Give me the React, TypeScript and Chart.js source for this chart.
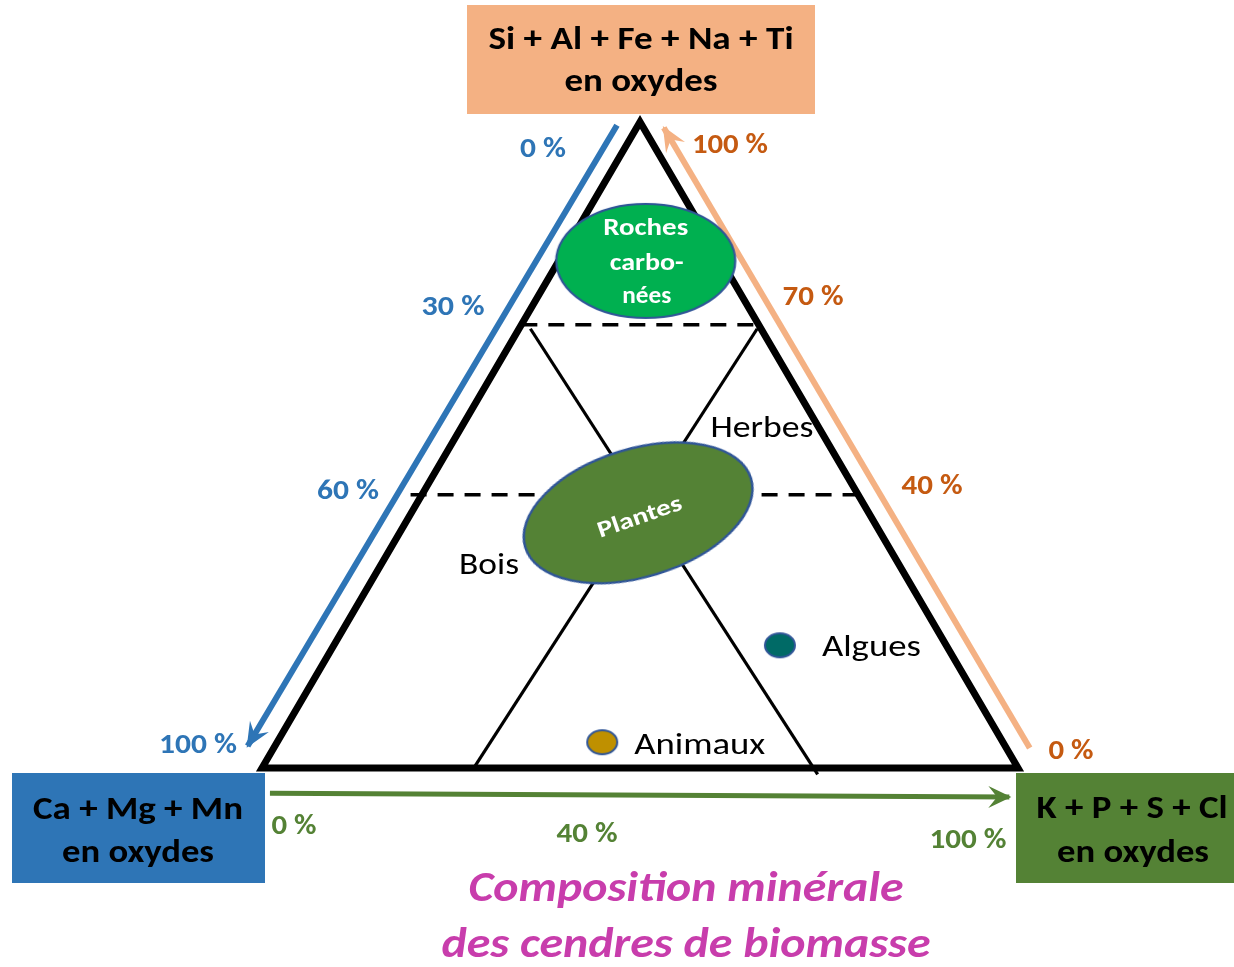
import React, { useEffect, useRef } from "react";
import { Chart, registerables } from "chart.js";

Chart.register(...registerables);

// ---------------- DATA ----------------
// Ternary compositions in % : [Si+Al+Fe+Na+Ti, Ca+Mg+Mn, K+P+S+Cl]
const apexLabel = ["Si + Al + Fe + Na + Ti", "en oxydes"];
const leftLabel = ["Ca + Mg + Mn", "en oxydes"];
const rightLabel = ["K + P + S + Cl", "en oxydes"];
const titleLines = ["Composition minérale", "des cendres de biomasse"];

const triangleVertices = [
  [0, 100, 0],
  [100, 0, 0],
  [0, 0, 100],
  [0, 100, 0],
  [100, 0, 0],
];
const dashedSi70 = [
  [68.6, 31.4, 0],
  [68.6, 0, 31.4],
];
const dashedSi40 = [
  [42.3, 59.2, -1.5],
  [42.3, 0, 57.7],
];
const boundaryCa30 = [
  [68, 30.5, 1.5],
  [-1, 27, 74],
];
const boundaryK30 = [
  [68, 0.5, 31.5],
  [0, 72, 28],
];

const groupNames = ["Roches carbonées", "Plantes", "Algues", "Animaux"];
const groupCenters = [
  [78.5, 10, 11.5],
  [39.5, 30.5, 30],
  [19, 22, 59],
  [4, 53, 43],
];
const rochesLines = ["Roches", "carbo-", "nées"];
const zoneNames = ["Herbes", "Bois"];

const caAxis = [
  [99.5, 3.3, -2.8],
  [3.4, 100.2, -3.6],
];
const siAxis = [
  [3.1, -3.1, 100],
  [99.1, -2.7, 3.6],
];
const kAxis = [
  [-3.9, 100.9, 3],
  [-4.5, 3.4, 101.1],
];

const caTicks = ["0 %", "30 %", "60 %", "100 %"];
const siTicks = ["100 %", "70 %", "40 %", "0 %"];
const kTicks = ["0 %", "40 %", "100 %"];

// ---------------- LAYOUT / STYLE ----------------
const FONT = 'Carlito, Lato, "Open Sans", sans-serif';
const BLUE = "#2E75B6";
const ORANGE = "#F4B183";
const ORANGE_TXT = "#C55A11";
const GREEN = "#548235";
const MAGENTA = "#C83DAC";
const EDGE_BLUE = "#2F5597";

const toXY = (p: number[]) => ({ x: (p[2] + p[0] / 2) / 100, y: p[0] / 100 });

// text layout: [cx, baseline, width]
const caTickPos = [
  [543, 157, 46],
  [453, 315, 63],
  [348, 499, 62],
  [198, 753, 78],
];
const siTickPos = [
  [730, 153, 76],
  [813, 305, 61],
  [932, 494, 61],
  [1071, 759, 45],
];
const kTickPos = [
  [294, 834, 45],
  [587, 842, 61],
  [968, 848, 77],
];

function fitText(
  ctx: CanvasRenderingContext2D,
  text: string,
  x: number,
  y: number,
  font: string,
  color: string,
  width: number,
  align: "center" | "left" = "center"
) {
  ctx.save();
  ctx.font = font;
  ctx.fillStyle = color;
  ctx.textBaseline = "alphabetic";
  const w = ctx.measureText(text).width;
  const s = width / w;
  ctx.translate(x, y);
  ctx.scale(s, 1);
  ctx.textAlign = align;
  ctx.fillText(text, 0, 0);
  ctx.restore();
}

function makeEllipse(rx: number, ry: number, fill: string, stroke: string, lw: number) {
  const c = document.createElement("canvas");
  const w = 2 * Math.ceil(rx + lw + 1);
  const h = 2 * Math.ceil(ry + lw + 1);
  c.width = w;
  c.height = h;
  const g = c.getContext("2d")!;
  g.beginPath();
  g.ellipse(w / 2, h / 2, rx, ry, 0, 0, Math.PI * 2);
  g.fillStyle = fill;
  g.fill();
  g.lineWidth = lw;
  g.strokeStyle = stroke;
  g.stroke();
  return c;
}

const decorPlugin = {
  id: "decor",
  beforeDatasetsDraw(chart: any) {
    const ctx = chart.ctx as CanvasRenderingContext2D;
    ctx.save();
    ctx.fillStyle = ORANGE;
    ctx.fillRect(467, 5, 348, 109);
    ctx.fillStyle = BLUE;
    ctx.fillRect(12, 773, 253, 110);
    ctx.fillStyle = GREEN;
    ctx.fillRect(1016, 773, 218, 110);
    ctx.restore();
  },
  afterDatasetsDraw(chart: any) {
    const ctx = chart.ctx as CanvasRenderingContext2D;
    // arrowheads
    const heads = [
      { i: 5, color: BLUE, L: 25, W: 11 },
      { i: 6, color: ORANGE, L: 25, W: 11 },
      { i: 7, color: GREEN, L: 23, W: 11 },
    ];
    heads.forEach((h) => {
      const pts = chart.getDatasetMeta(h.i).data;
      const a = pts[0];
      const b = pts[pts.length - 1];
      const dx = b.x - a.x;
      const dy = b.y - a.y;
      const len = Math.hypot(dx, dy);
      const ux = dx / len;
      const uy = dy / len;
      const nx = -uy;
      const ny = ux;
      const tx = b.x + ux * 2;
      const ty = b.y + uy * 2;
      ctx.save();
      ctx.fillStyle = h.color;
      ctx.beginPath();
      ctx.moveTo(tx, ty);
      ctx.lineTo(tx - ux * h.L + nx * h.W, ty - uy * h.L + ny * h.W);
      ctx.lineTo(tx - ux * h.L * 0.62, ty - uy * h.L * 0.62);
      ctx.lineTo(tx - ux * h.L - nx * h.W, ty - uy * h.L - ny * h.W);
      ctx.closePath();
      ctx.fill();
      ctx.restore();
    });

    const bold = (s: number) => `bold ${s}px ${FONT}`;
    const reg = (s: number) => `${s}px ${FONT}`;

    // corner boxes
    fitText(ctx, apexLabel[0], 641, 49, bold(33), "#000", 305);
    fitText(ctx, apexLabel[1], 641, 91, bold(33), "#000", 153);
    fitText(ctx, leftLabel[0], 138, 819, bold(33), "#000", 210);
    fitText(ctx, leftLabel[1], 138, 862, bold(33), "#000", 152);
    fitText(ctx, rightLabel[0], 1132, 818, bold(33), "#000", 191);
    fitText(ctx, rightLabel[1], 1133, 862, bold(33), "#000", 152);

    // ticks
    caTicks.forEach((t, i) => fitText(ctx, t, caTickPos[i][0], caTickPos[i][1], bold(28), BLUE, caTickPos[i][2]));
    siTicks.forEach((t, i) => fitText(ctx, t, siTickPos[i][0], siTickPos[i][1], bold(28), ORANGE_TXT, siTickPos[i][2]));
    kTicks.forEach((t, i) => fitText(ctx, t, kTickPos[i][0], kTickPos[i][1], bold(28), GREEN, kTickPos[i][2]));

    // group labels
    const roches = chart.getDatasetMeta(8).data[0];
    fitText(ctx, rochesLines[0], roches.x, roches.y - 26, bold(24), "#fff", 85);
    fitText(ctx, rochesLines[1], roches.x + 1, roches.y + 9, bold(24), "#fff", 74);
    fitText(ctx, rochesLines[2], roches.x + 1, roches.y + 42, bold(24), "#fff", 49);

    const plantes = chart.getDatasetMeta(9).data[0];
    ctx.save();
    ctx.translate(plantes.x + 1, plantes.y + 3);
    ctx.rotate((-19 * Math.PI) / 180);
    fitText(ctx, groupNames[1], 0, 8, bold(23), "#fff", 88);
    ctx.restore();

    const algues = chart.getDatasetMeta(10).data[0];
    fitText(ctx, groupNames[2], algues.x + 42, algues.y + 11, reg(30), "#000", 99, "left");
    const animaux = chart.getDatasetMeta(11).data[0];
    fitText(ctx, groupNames[3], animaux.x + 32, animaux.y + 12, reg(30), "#000", 131, "left");

    fitText(ctx, zoneNames[0], 762, 437, reg(30), "#000", 103);
    fitText(ctx, zoneNames[1], 489, 574, reg(30), "#000", 60);

    // title
    fitText(ctx, titleLines[0], 686, 901, `italic bold 43px ${FONT}`, MAGENTA, 435);
    fitText(ctx, titleLines[1], 686, 957, `italic bold 43px ${FONT}`, MAGENTA, 489);
  },
};

export default function App() {
  const ref = useRef<HTMLCanvasElement | null>(null);

  useEffect(() => {
    document.body.style.margin = "0";
    const canvas = ref.current!;
    const line = (pts: number[][], color: string, width: number, order: number, extra: any = {}) => ({
      data: pts.map(toXY),
      showLine: true,
      borderColor: color,
      borderWidth: width,
      pointRadius: 0,
      pointHoverRadius: 0,
      tension: 0,
      clip: false,
      order,
      ...extra,
    });
    const blob = (i: number, img: HTMLCanvasElement, rot: number) => ({
      data: [toXY(groupCenters[i])],
      showLine: false,
      pointStyle: img,
      pointRadius: 10,
      pointHoverRadius: 10,
      rotation: rot,
      clip: false,
      order: 0,
    });

    const chart = new Chart(canvas, {
      type: "scatter",
      data: {
        datasets: [
          line(triangleVertices, "#000", 7, 2, { borderJoinStyle: "miter" }),
          line(dashedSi70, "#000", 3.5, 3, { borderDash: [16, 11] }),
          line(dashedSi40, "#000", 3.5, 3, { borderDash: [16, 11] }),
          line(boundaryCa30, "#000", 3.2, 3),
          line(boundaryK30, "#000", 3.2, 3),
          line(caAxis, BLUE, 6, 1),
          line(siAxis, ORANGE, 6, 1),
          line(kAxis, GREEN, 5, 1),
          blob(0, makeEllipse(89.5, 57, "#00B050", EDGE_BLUE, 2.2), 0),
          blob(1, makeEllipse(118, 64, GREEN, EDGE_BLUE, 2.5), -17),
          blob(2, makeEllipse(15, 12, "#006A66", EDGE_BLUE, 2), 0),
          blob(3, makeEllipse(15, 12, "#BF9000", EDGE_BLUE, 2), 0),
        ] as any,
      },
      options: {
        animation: false,
        responsive: false,
        devicePixelRatio: 1,
        events: [],
        layout: { padding: 0, autoPadding: false },
        plugins: { legend: { display: false }, tooltip: { enabled: false } },
        scales: {
          x: { type: "linear", min: -0.3466, max: 1.2857, display: false },
          y: { type: "linear", min: -0.308, max: 1.1889, display: false },
        },
      } as any,
      plugins: [decorPlugin],
    });
    return () => chart.destroy();
  }, []);

  return (
    <div style={{ width: 1234, height: 967, overflow: "hidden", background: "#fff" }}>
      <canvas ref={ref} width={1234} height={967} style={{ display: "block" }} />
    </div>
  );
}
